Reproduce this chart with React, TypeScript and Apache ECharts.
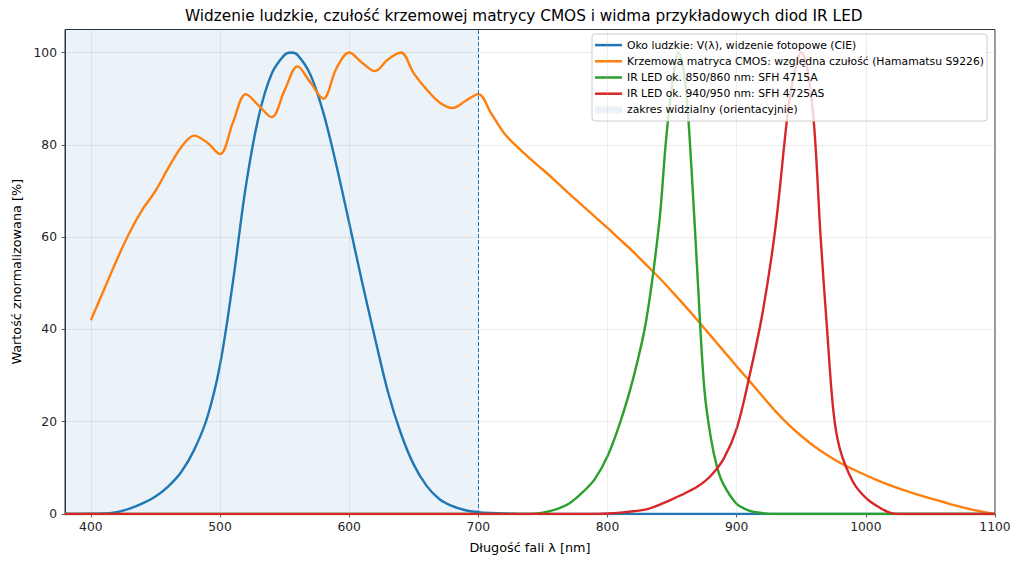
import React, { useEffect, useRef } from "react";
import * as echarts from "echarts";

// ---- data ----
const eyeWl = [380, 390, 400, 410, 420, 430, 440, 450, 460, 470, 480, 490, 500, 510, 520, 530, 540, 550, 555, 560, 570, 580, 590, 600, 610, 620, 630, 640, 650, 660, 670, 680, 690, 700, 710, 720, 730, 740, 750, 760, 770, 780, 800, 900, 1000, 1100];
const eyeV = [0.004, 0.012, 0.04, 0.12, 0.4, 1.16, 2.3, 3.8, 6.0, 9.1, 13.9, 20.8, 32.3, 50.3, 71.0, 86.2, 95.4, 99.5, 100, 99.5, 95.2, 87.0, 75.7, 63.1, 50.3, 38.1, 26.5, 17.5, 10.7, 6.1, 3.2, 1.7, 0.82, 0.41, 0.21, 0.105, 0.052, 0.025, 0.012, 0.006, 0.003, 0.0015, 0, 0, 0, 0];

const cmosWl = [400, 410, 420, 430, 440, 450, 460, 470, 480, 490, 500, 510, 520, 530, 540, 550, 560, 570, 580, 590, 600, 610, 620, 630, 640, 650, 660, 670, 680, 690, 700, 710, 720, 730, 740, 750, 760, 770, 780, 790, 800, 810, 820, 830, 840, 850, 860, 870, 880, 890, 900, 910, 920, 930, 940, 950, 960, 970, 980, 990, 1000, 1010, 1020, 1030, 1040, 1050, 1060, 1070, 1080, 1090, 1100];
const cmosV = [42, 48.5, 55, 61, 66, 70, 75, 79.5, 82, 80.5, 78, 84.8, 91, 88.5, 86, 91.8, 97, 93.5, 90, 96.5, 100, 97.8, 96, 98.5, 100, 95.5, 92, 89.2, 88, 89.5, 91, 86.8, 82.5, 79.6, 77, 74.6, 72.1, 69.5, 67, 64.5, 62, 59.4, 56.8, 54, 51.2, 48.2, 45.1, 41.9, 38.6, 35.3, 32, 28.8, 25.5, 22.3, 19.4, 16.9, 14.7, 12.8, 11.1, 9.7, 8.4, 7.2, 6.1, 5.1, 4.2, 3.4, 2.6, 1.8, 1.1, 0.5, 0];

const led850Wl = [380, 700, 740, 750, 760, 770, 780, 790, 800, 810, 820, 830, 840, 845, 850, 855, 860, 865, 870, 875, 880, 885, 890, 900, 910, 920, 930, 1000, 1100];
const led850V = [0, 0, 0, 0.3, 1, 2.2, 4.5, 7.5, 12.5, 20, 29.5, 42, 63, 80, 93, 100, 94, 75, 50, 27, 16.5, 10, 6.3, 2.2, 0.7, 0.2, 0, 0, 0];

const led940Wl = [380, 700, 790, 800, 810, 820, 830, 840, 850, 860, 870, 880, 890, 900, 910, 920, 930, 940, 945, 950, 955, 960, 965, 970, 975, 980, 990, 1000, 1010, 1020, 1030, 1100];
const led940V = [0, 0, 0, 0.1, 0.3, 0.6, 1, 2, 3.2, 4.5, 6, 8.3, 12, 18.5, 30, 43.5, 62, 88, 96, 100, 96, 84, 60, 40, 22, 14, 7, 3.5, 1.5, 0.2, 0, 0];

const visibleRange = [380, 700];
const xTicks = [400, 500, 600, 700, 800, 900, 1000, 1100];
const yTicks = [0, 20, 40, 60, 80, 100];

const names = [
  "Oko ludzkie: V(λ), widzenie fotopowe (CIE)",
  "Krzemowa matryca CMOS: względna czułość (Hamamatsu S9226)",
  "IR LED ok. 850/860 nm: SFH 4715A",
  "IR LED ok. 940/950 nm: SFH 4725AS",
  "zakres widzialny (orientacyjnie)",
];
const colors = ["#1f77b4", "#ff7f0e", "#2ca02c", "#d62728"];

const zip = (xs: number[], ys: number[]) => xs.map((x, i) => [x, ys[i]]);

const FONT = "DejaVu Sans";
const LEG_FS = 10.8;
const LEG_LH = 16.2;

export default function App() {
  const ref = useRef<HTMLDivElement>(null);
  useEffect(() => {
    if (!ref.current) return;
    const chart = echarts.init(ref.current, null, { renderer: "svg" });
    const lineSeries = (name: string, data: number[][], color: string, extra: any = {}) => ({
      name,
      type: "line",
      data,
      smooth: 0.35,
      showSymbol: false,
      symbol: "none",
      lineStyle: { color, width: 2.4 },
      itemStyle: { color },
      z: 3,
      ...extra,
    });
    chart.setOption({
      animation: false,
      backgroundColor: "#ffffff",
      textStyle: { fontFamily: FONT },
      title: {
        text: "Widzenie ludzkie, czułość krzemowej matrycy CMOS i widma przykładowych diod IR LED",
        left: 185,
        top: 8,
        padding: 0,
        textStyle: { fontFamily: FONT, fontSize: 15.3, fontWeight: "normal", color: "#000" },
      },
      grid: {
        left: 65,
        right: 29,
        top: 29.5,
        bottom: 50,
        show: true,
        borderColor: "#333",
        borderWidth: 1,
        backgroundColor: "transparent",
      },
      legend: [
        {
          data: names.slice(0, 4).map((n) => ({ name: n, icon: "rect" })),
          orient: "vertical",
          left: 592,
          top: 34,
          itemWidth: 27,
          itemHeight: 2.5,
          itemGap: 0,
          padding: [3, 3, 3 + LEG_LH, 3],
          backgroundColor: "rgba(255,255,255,0.8)",
          borderColor: "#cccccc",
          borderWidth: 1,
          borderRadius: 3,
          textStyle: { fontFamily: FONT, fontSize: LEG_FS, color: "#000", lineHeight: LEG_LH },
          itemStyle: { borderWidth: 0 },
          selectedMode: false,
        },
        {
          data: [{ name: names[4], icon: "rect" }],
          orient: "vertical",
          left: 592,
          top: 34 + 3 + 4 * LEG_LH,
          itemWidth: 27,
          itemHeight: 7,
          padding: [0, 0, 0, 3],
          textStyle: { fontFamily: FONT, fontSize: LEG_FS, color: "#000", lineHeight: LEG_LH },
          itemStyle: { borderWidth: 0 },
          selectedMode: false,
        },
      ],
      xAxis: {
        type: "value",
        min: 380,
        max: 1100,
        name: "Długość fali λ [nm]",
        nameLocation: "middle",
        nameGap: 27,
        nameTextStyle: { fontFamily: FONT, fontSize: 12.8, color: "#000" },
        axisLine: { show: true, onZero: false, lineStyle: { color: "#333", width: 1 } },
        axisTick: { show: true, inside: false, length: 3.5, customValues: xTicks, lineStyle: { color: "#333", width: 0.8 } },
        axisLabel: { customValues: xTicks, formatter: (v: number) => String(v), fontFamily: FONT, fontSize: 12.3, color: "#222", margin: 7 },
        splitLine: { show: false },
      },
      yAxis: {
        type: "value",
        min: 0,
        max: 105,
        interval: 20,
        name: "Wartość znormalizowana [%]",
        nameLocation: "middle",
        nameGap: 40,
        nameTextStyle: { fontFamily: FONT, fontSize: 12.8, color: "#000" },
        axisLine: { show: true, lineStyle: { color: "#333", width: 1 } },
        axisTick: { show: true, inside: false, length: 3.5, customValues: yTicks, lineStyle: { color: "#333", width: 0.8 } },
        axisLabel: { customValues: yTicks, formatter: (v: number) => String(v), fontFamily: FONT, fontSize: 12.3, color: "#222", margin: 8 },
        splitLine: { show: true, lineStyle: { color: "#b0b0b0", opacity: 0.3, width: 0.8 } },
      },
      series: [
        {
          name: names[4],
          type: "line",
          data: [],
          itemStyle: { color: "rgba(31,119,180,0.09)" },
          lineStyle: { color: "rgba(31,119,180,0.09)" },
          z: 1,
          silent: true,
        },
        lineSeries(names[0], zip(eyeWl, eyeV), colors[0], {
          markArea: {
            silent: true,
            itemStyle: { color: "rgba(31,119,180,0.09)" },
            data: [[{ xAxis: visibleRange[0] }, { xAxis: visibleRange[1] }]],
          },
          markLine: {
            silent: true,
            symbol: "none",
            label: { show: false },
            data: [
              ...xTicks.map((t) => ({ xAxis: t, lineStyle: { color: "#b0b0b0", opacity: 0.3, width: 0.8, type: "solid" } })),
              { xAxis: visibleRange[1], lineStyle: { color: "#1f77b4", width: 1, type: [4, 2], opacity: 1 } },
            ],
          },
        }),
        lineSeries(names[1], zip(cmosWl, cmosV), colors[1]),
        lineSeries(names[2], zip(led850Wl, led850V), colors[2]),
        lineSeries(names[3], zip(led940Wl, led940V), colors[3]),
      ],
    });
    return () => chart.dispose();
  }, []);
  return <div ref={ref} style={{ position: "fixed", left: 0, top: 0, width: 1024, height: 564 }} />;
}
